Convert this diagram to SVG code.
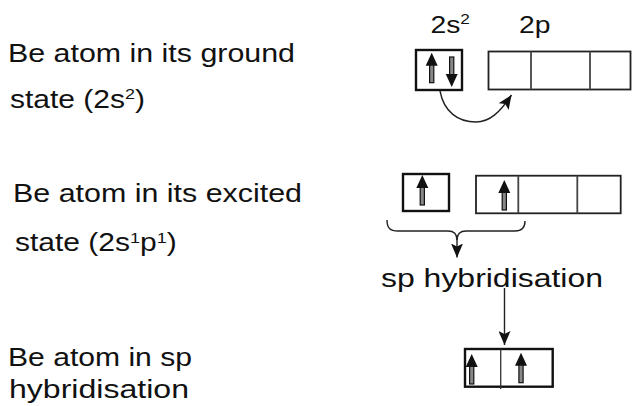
<svg xmlns="http://www.w3.org/2000/svg" xmlns:xlink="http://www.w3.org/1999/xlink" width="632" height="406" viewBox="0 0 632 406">
<style>
.t{font-family:"Liberation Sans",Arial,sans-serif;font-size:25px;fill:#111}
.lbl{font-family:"Liberation Sans",Arial,sans-serif;font-size:23px;fill:#111}
.box{fill:none;stroke:#111;stroke-width:2.4}
.pbox{fill:none;stroke:#222;stroke-width:1.8}
.div{stroke:#444;stroke-width:1.8}
.con{fill:none;stroke:#222;stroke-width:1.4}
</style>
<defs>
<marker id="ah" viewBox="0 0 14 12" refX="14" refY="6" markerWidth="14" markerHeight="12" markerUnits="userSpaceOnUse" orient="auto">
<path d="M0,0 L14,6 L0,12 L3,6 Z" fill="#111"/>
</marker>
<g id="up">
<rect x="-2.1" y="11" width="4.2" height="19" fill="#888" stroke="#111" stroke-width="1.2"/>
<path d="M0,0 L6,13 L-6,13 Z" fill="#111"/>
</g>
</defs>

<g id="labels-left">
<text class="t" x="8" y="61.5" textLength="287" lengthAdjust="spacingAndGlyphs">Be atom in its ground</text>
<text class="t" transform="translate(10,107.5) scale(1.2,1)">state (2s<tspan font-size="15" dy="-8.5">2</tspan><tspan dy="8.5">)</tspan></text>
<text class="t" x="13" y="201.5" textLength="289" lengthAdjust="spacingAndGlyphs">Be atom in its excited</text>
<text class="t" transform="translate(15,251) scale(1.2,1)">state (2s<tspan font-size="15" dy="-8.5">1</tspan><tspan dy="8.5">p</tspan><tspan font-size="15" dy="-8.5">1</tspan><tspan dy="8.5">)</tspan></text>
<text class="t" x="8" y="366" textLength="184" lengthAdjust="spacingAndGlyphs">Be atom in sp</text>
<text class="t" x="9" y="398" textLength="180" lengthAdjust="spacingAndGlyphs">hybridisation</text>
</g>

<g id="orbital-labels">
<text class="lbl" transform="translate(430.5,33.3) scale(1.23,1)">2s<tspan font-size="14" dy="-9">2</tspan></text>
<text class="lbl" transform="translate(519,33.3) scale(1.23,1)">2p</text>
</g>

<g id="ground-2s">
<rect class="box" x="416" y="50" width="46" height="40"/>
<use xlink:href="#up" href="#up" x="431.7" y="52.7"/>
<use xlink:href="#up" href="#up" transform="translate(451.7,87) rotate(180)"/>
</g>

<g id="ground-2p">
<rect class="pbox" x="488.5" y="51.5" width="142" height="38"/>
<line class="div" x1="531" y1="51.5" x2="531" y2="89.5"/>
<line class="div" x1="590" y1="51.5" x2="590" y2="89.5"/>
</g>

<g id="excited-2s">
<rect class="box" x="403" y="174" width="46" height="37"/>
<use xlink:href="#up" href="#up" x="422.3" y="175"/>
</g>

<g id="excited-2p">
<rect class="pbox" x="476" y="175.7" width="144.7" height="37.6"/>
<line class="div" x1="518.3" y1="175.7" x2="518.3" y2="213.3"/>
<line class="div" x1="577.3" y1="175.7" x2="577.3" y2="213.3"/>
<use xlink:href="#up" href="#up" x="504.3" y="180"/>
</g>

<g id="hybrid-label">
<text class="t" x="381" y="286.5" textLength="222" lengthAdjust="spacingAndGlyphs">sp hybridisation</text>
</g>

<g id="sp-orbitals">
<rect class="box" x="465" y="349" width="87.7" height="37.7"/>
<line stroke="#333" stroke-width="1.3" x1="500.7" y1="349" x2="500.7" y2="389"/>
<use xlink:href="#up" href="#up" x="471.7" y="354"/>
<use xlink:href="#up" href="#up" x="521" y="352.7"/>
</g>

<g id="connectors">
<path class="con" d="M440,91 C444,112 458,122 476,122 C490,122 500,112 511.5,95" marker-end="url(#ah)"/>
<path class="con" d="M387,220 C387,228 390,231 398,231 L448,231 C454,231 457,234 457,240 C457,234 460,231 466,231 L515,231 C522,231 525,228 525,221"/>
<path class="con" d="M457,239 L457,257.5" marker-end="url(#ah)"/>
<path class="con" d="M504.5,288 L504.5,345" marker-end="url(#ah)"/>
</g>
</svg>
